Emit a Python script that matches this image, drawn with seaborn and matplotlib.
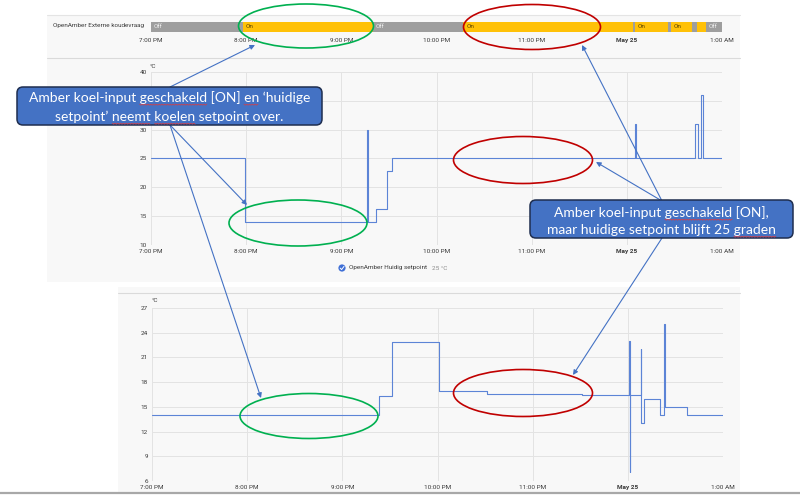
import numpy as np
import pandas as pd
import matplotlib
matplotlib.use("Agg")
import matplotlib.pyplot as plt
import seaborn as sns
from matplotlib.patches import Ellipse, FancyBboxPatch, Rectangle, Circle

sns.set_theme(style="white")
plt.rcParams['font.family'] = ['Roboto', 'DejaVu Sans']

# ---------------- data ----------------
hour_labels = ["7:00 PM", "8:00 PM", "9:00 PM", "10:00 PM", "11:00 PM", "May 25", "1:00 AM"]

timeline_label = "OpenAmber Externe koudevraag"
state_starts = ["19:00", "19:58", "21:20", "22:17", "00:04", "00:05", "00:26", "00:28", "00:41", "00:44", "00:50"]
state_values = ["Off", "On", "Off", "On", "Off", "On", "Off", "On", "Off", "On", "Off"]
state_end = "01:00"

setpoint_times = ["19:00", "19:59", "21:16", "21:17", "21:22", "21:29", "21:32",
                  "00:05", "00:06", "00:43", "00:45", "00:47", "00:48", "01:00"]
setpoint_values = [25, 14, 30, 14, 16.2, 22.8, 25, 31, 25, 31, 25, 36, 25, 25]
setpoint_ticks = [10, 15, 20, 25, 30, 35, 40]
# the "35" label is hidden behind the callout box in the reference
setpoint_tick_labels = ["10", "15", "20", "25", "30", "", "40"]
legend_name = "OpenAmber Huidig setpoint"
legend_value = "25 °C"

bottom_times = ["19:00", "21:23", "21:31", "22:01", "22:31", "23:31",
                "00:01:00", "00:01:20", "00:01:40", "00:08:00", "00:08:20", "00:10",
                "00:20", "00:23:00", "00:23:20", "00:37", "01:00"]
bottom_values = [14, 16.3, 22.9, 16.9, 16.6, 16.4, 23, 7.1, 16.4, 22, 13, 16, 14, 25, 15, 14, 14]
bottom_ticks = [6, 9, 12, 15, 18, 21, 24, 27]
bottom_tick_labels = ["6", "9", "12", "15", "18", "21", "24", "27"]

callout1_lines = ["Amber koel-input geschakeld [ON] en \u2018huidige",
                  "setpoint\u2019 neemt koelen setpoint over."]
callout1_marked = [["geschakeld", "en"], ["neemt", "koelen"]]
callout2_lines = ["Amber koel-input geschakeld [ON],",
                  "maar huidige setpoint blijft 25 graden"]
callout2_marked = [["geschakeld"], ["graden"]]


def to_hours(t):
    p = [int(v) for v in t.split(":")]
    s = p[2] if len(p) > 2 else 0
    return (p[0] - 19) % 24 + p[1] / 60 + s / 3600


W, H = 800, 496
fig = plt.figure(figsize=(8, 4.96), dpi=100)
fig.patch.set_facecolor("white")


def rect(x0, y0, x1, y1):
    return [x0 / W, 1 - y1 / H, (x1 - x0) / W, (y1 - y0) / H]


LINE = "#5c84d6"
PANEL = "#f8f8f8"
GRID = "#e3e3e3"
TXT = "#3a3a3a"
FS = 4.6

# ---------------- background panels ----------------
bg = fig.add_axes([0, 0, 1, 1], zorder=0)
bg.set_xlim(0, W); bg.set_ylim(H, 0); bg.axis("off")
bg.add_patch(Rectangle((47, 15), 693, 267, fc=PANEL, ec="none"))
bg.plot([47, 740], [15, 15], color="#e4e4e4", lw=0.8)
bg.plot([47, 740], [58, 58], color="#dadada", lw=0.8)
bg.add_patch(Rectangle((118, 287), 622, 205, fc=PANEL, ec="none"))
bg.plot([118, 740], [293, 293], color="#dadada", lw=0.8)
bg.plot([0, 800], [493, 493], color="#a8a8a8", lw=1.6)

# ---------------- timeline ----------------
tl = fig.add_axes(rect(151, 22, 722, 32), zorder=1)
st = [to_hours(t) for t in state_starts]
en = st[1:] + [to_hours(state_end)]
state_color = {"On": "#ffc107", "Off": "#9e9e9e"}
state_txt = {"On": "#5a4300", "Off": "#eeeeee"}
for s, e, v in zip(st, en, state_values):
    tl.barh(0, e - s, left=s, height=1, color=state_color[v], edgecolor="none")
    if (e - s) * 95 > 12:
        tl.text(s + 0.03, 0, v, va="center", ha="left", fontsize=FS, color=state_txt[v])
tl.set_xlim(0, 6); tl.set_ylim(-0.5, 0.5)
tl.set_xticks(range(7)); tl.set_xticklabels(hour_labels)
tl.set_yticks([])
tl.tick_params(axis="x", length=0, labelsize=FS, pad=4, colors=TXT)
for sp in tl.spines.values():
    sp.set_visible(False)
for lab in tl.get_xticklabels():
    if lab.get_text() == "May 25":
        lab.set_fontweight("bold")


def style_chart(ax, ticks, tick_labels, lo, hi):
    ax.set_facecolor(PANEL)
    ax.set_xlim(0, 6); ax.set_ylim(lo, hi)
    ax.set_xticks(range(7)); ax.set_xticklabels(hour_labels)
    ax.set_yticks(ticks); ax.set_yticklabels(tick_labels)
    ax.grid(True, color=GRID, lw=0.7)
    ax.set_axisbelow(True)
    ax.tick_params(length=0, labelsize=FS, pad=3, colors=TXT)
    for sp in ax.spines.values():
        sp.set_visible(False)
    ax.set_xlabel(""); ax.set_ylabel("")
    for lab in ax.get_xticklabels():
        if lab.get_text() == "May 25":
            lab.set_fontweight("bold")


# ---------------- middle chart ----------------
ax1 = fig.add_axes(rect(151, 72, 722, 245), zorder=1)
df1 = pd.DataFrame({"h": [to_hours(t) for t in setpoint_times], "v": setpoint_values})
sns.lineplot(data=df1, x="h", y="v", drawstyle="steps-post", estimator=None, sort=False,
             color=LINE, lw=0.8, ax=ax1)
style_chart(ax1, setpoint_ticks, setpoint_tick_labels, 10, 40)

# ---------------- bottom chart ----------------
ax2 = fig.add_axes(rect(152, 308, 723, 481), zorder=1)
df2 = pd.DataFrame({"h": [to_hours(t) for t in bottom_times], "v": bottom_values})
sns.lineplot(data=df2, x="h", y="v", drawstyle="steps-post", estimator=None, sort=False,
             color=LINE, lw=0.8, ax=ax2)
style_chart(ax2, bottom_ticks, bottom_tick_labels, 6, 27)

# ---------------- overlay ----------------
ov = fig.add_axes([0, 0, 1, 1], zorder=5)
ov.set_xlim(0, W); ov.set_ylim(H, 0); ov.axis("off"); ov.patch.set_alpha(0)

ov.text(53, 26, timeline_label, fontsize=FS, color=TXT, ha="left", va="center")
ov.text(150, 66, "°C", fontsize=FS, color=TXT, ha="left", va="center")
ov.text(152, 301, "°C", fontsize=FS, color=TXT, ha="left", va="center")

# legend
ov.add_patch(Circle((342, 268), 3.6, fc="#3f6fd6", ec="none"))
ov.plot([340.2, 341.6, 344.0], [268.1, 269.6, 266.4], color="white", lw=0.7)
ov.text(349, 268, legend_name, fontsize=FS, color=TXT, ha="left", va="center")
ov.text(432, 268, legend_value, fontsize=FS, color="#8a8a8a", ha="left", va="center")

# ellipses
GREEN, RED = "#00b050", "#c00000"
for cx, cy, w, h, c in [(306, 26, 135, 44, GREEN), (532, 27, 137, 45, RED),
                        (298, 223, 138, 46, GREEN), (523, 160, 139, 47, RED),
                        (309, 416, 138, 45, GREEN), (523, 393, 139, 47, RED)]:
    ov.add_patch(Ellipse((cx, cy), w, h, fill=False, ec=c, lw=1.2, zorder=3))

# arrows
ARW = "#4472c4"
for (x0, y0), (x1, y1) in [((170, 87), (255, 45)), ((170, 125), (247, 205)),
                           ((170, 125), (261, 398)), ((662, 201), (582, 45)),
                           ((662, 201), (596, 162)), ((662, 238), (573, 375))]:
    ov.annotate("", xy=(x1, y1), xytext=(x0, y0),
                arrowprops=dict(arrowstyle="-|>", color=ARW, lw=0.8, mutation_scale=7,
                                shrinkA=0, shrinkB=0), zorder=4)

# callouts
renderer = fig.canvas.get_renderer()
CFONT = dict(fontsize=10, family=["Lato", "DejaVu Sans"])


def text_width(s):
    t = ov.text(0, 0, s, **CFONT)
    w = t.get_window_extent(renderer).width
    t.remove()
    return w


def callout(x0, y0, x1, y1, lines, marked, baselines):
    ov.add_patch(FancyBboxPatch((x0, y0), x1 - x0, y1 - y0,
                                boxstyle="round,pad=0,rounding_size=6",
                                fc="#4472c4", ec="#1f2e4f", lw=1.1, zorder=6))
    cx = (x0 + x1) / 2
    for line, words, by in zip(lines, marked, baselines):
        ov.text(cx, by, line, color="white", ha="center", va="baseline", zorder=7, **CFONT)
        full = text_width(line)
        left = cx - full / 2
        for wd in words:
            idx = line.find(wd)
            end = text_width(line[: idx + len(wd)])
            start = end - text_width(wd)
            xs = np.arange(left + start, left + end + 0.01, 1.4)
            ys = by + 2.2 + np.where(np.arange(len(xs)) % 2 == 0, 0.0, 1.0)
            ov.plot(xs, ys, color="#e23a3a", lw=0.5, zorder=8)


callout(17, 87, 322, 125, callout1_lines, callout1_marked, [102, 121])
callout(530, 200, 793, 238, callout2_lines, callout2_marked, [217, 234])

fig.savefig("out.png", dpi=100)
